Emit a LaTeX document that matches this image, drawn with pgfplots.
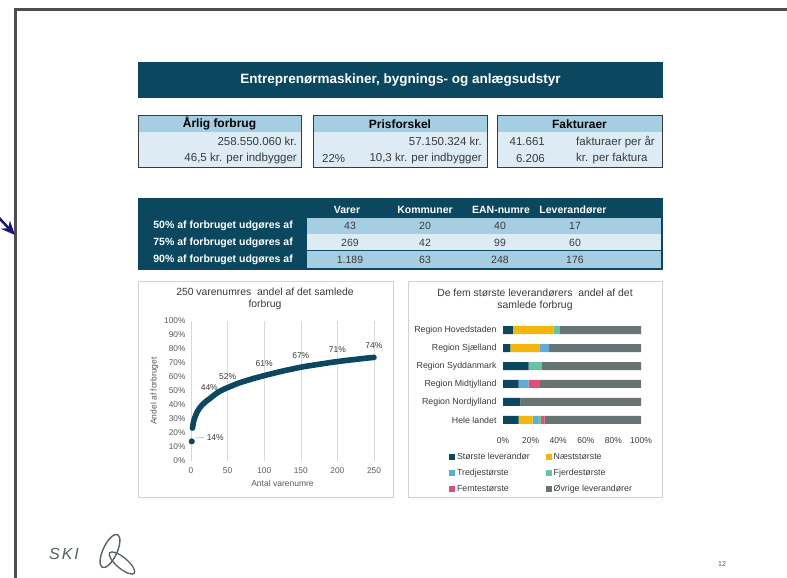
\documentclass[border=0pt]{standalone}
\usepackage{fontspec}
\setmainfont{Liberation Sans}
\usepackage{pgfplots}
\pgfplotsset{compat=1.18}
\usetikzlibrary{arrows.meta}

\definecolor{skiteal}{RGB}{11,72,96}
\definecolor{skiyellow}{RGB}{242,183,10}
\definecolor{skiblue}{RGB}{96,172,216}
\definecolor{skigreen}{RGB}{106,193,163}
\definecolor{skipink}{RGB}{225,77,122}
\definecolor{skigray}{RGB}{104,116,116}
\definecolor{hdrblue}{RGB}{166,206,227}
\definecolor{rowblue}{RGB}{221,235,244}
\definecolor{frame}{RGB}{77,77,79}
\definecolor{txt}{RGB}{58,58,58}
\definecolor{axtxt}{RGB}{89,89,89}
\definecolor{logo}{RGB}{86,98,96}
\definecolor{navyarrow}{RGB}{22,22,122}

\newcommand{\fs}[1]{\fontsize{#1}{#1}\selectfont}

\begin{document}
\begin{tikzpicture}[x=1pt,y=1pt]
\fill[white] (0,0) rectangle (787,578);
\useasboundingbox (0,0) rectangle (787,578);

% slide frame and arrow
\fill[frame] (14,567) rectangle (787,570);
\fill[frame] (14,0) rectangle (17,570);
\draw[-{Stealth[length=14pt,width=12pt]}, line width=2.5pt, navyarrow] (-12,372) -- (15,343);

% title bar
\fill[skiteal] (138,480) rectangle (663,515.5);
\node[white, font=\fs{13.5}\bfseries] at (400.5,497.5) {Entreprenørmaskiner, bygnings- og anlægsudstyr};

% three small tables
\foreach \a/\b in {138/301, 313/487, 497/662} {
  \fill[hdrblue] (\a,445.5) rectangle (\b,463);
  \fill[rowblue] (\a,411) rectangle (\b,445.5);
  \draw[txt, line width=0.8pt] (\a,411) rectangle (\b,463);
}
\begin{scope}[every node/.style={inner sep=0pt}]
\node[font=\fs{12}\bfseries] at (219.5,454.2) {Årlig forbrug};
\node[font=\fs{12}\bfseries] at (400,454.2) {Prisforskel};
\node[font=\fs{12}\bfseries] at (579.5,454.2) {Fakturaer};
\node[anchor=east, text=txt, font=\fs{11.5}] at (297,436.3) {258.550.060 kr.};
\node[anchor=east, text=txt, font=\fs{11.5}] at (297,419) {46,5 kr. per indbygger};
\node[anchor=east, text=txt, font=\fs{11.5}] at (482,436.3) {57.150.324 kr.};
\node[anchor=west, text=txt, font=\fs{11.5}] at (322,419) {22\%};
\node[anchor=east, text=txt, font=\fs{11.5}] at (482,419) {10,3 kr. per indbygger};
\node[anchor=east, text=txt, font=\fs{11.5}] at (545,436.3) {41.661};
\node[anchor=west, text=txt, font=\fs{11.5}] at (576,436.3) {fakturaer per år};
\node[anchor=east, text=txt, font=\fs{11.5}] at (545,419) {6.206};
\node[anchor=west, text=txt, font=\fs{11.5}] at (576,419) {kr. per faktura};
\end{scope}

% big table
\fill[skiteal] (138,308) rectangle (663,380);
\fill[hdrblue] (307,344) rectangle (661,360);
\fill[rowblue] (307,327.5) rectangle (661,343.5);
\fill[hdrblue] (307,310) rectangle (661,327);
\begin{scope}[every node/.style={inner sep=0pt}]
\foreach \x/\t in {347/Varer, 425/Kommuner, 501/EAN-numre, 573/Leverandører}
  \node[white, font=\fs{10.5}\bfseries] at (\x,368) {\t};
\foreach \y/\p in {352/50, 335.5/75, 318.5/90}
  \node[anchor=east, white, font=\fs{10.5}\bfseries] at (293,\y) {\p\% af forbruget udgøres af};
\foreach \y/\a/\b/\c/\d in {352/43/20/40/17, 335.5/269/42/99/60, 318.5/1.189/63/248/176} {
  \node[text=txt, font=\fs{10.5}] at (350,\y) {\a};
  \node[text=txt, font=\fs{10.5}] at (425,\y) {\b};
  \node[text=txt, font=\fs{10.5}] at (500,\y) {\c};
  \node[text=txt, font=\fs{10.5}] at (575,\y) {\d};
}
\end{scope}

% chart frames and titles
\draw[gray!35, line width=0.8pt] (138,81) rectangle (393,297);
\draw[gray!35, line width=0.8pt] (408,81) rectangle (662,297);
\node[align=center, text=txt, font=\fontsize{10.4}{11.8}\selectfont] at (265,279)
  {250 varenumres\ \ andel af det samlede\\forbrug};
\node[align=center, text=txt, font=\fontsize{10.4}{11.8}\selectfont] at (535,278.5)
  {De fem største leverandørers\ \ andel af det\\samlede forbrug};

% left chart: cumulative share of 250 item numbers
\begin{axis}[
  at={(191pt,117pt)}, anchor=south west,
  width=183pt, height=140pt, scale only axis,
  xmin=0, xmax=250, ymin=0, ymax=100,
  axis line style={draw=none},
  major tick length=0pt,
  xtick={0,50,...,250}, ytick={0,10,...,100},
  xmajorgrids, grid style={gray!30, line width=0.6pt},
  /pgf/number format/assume math mode=true,
  yticklabel={\pgfmathprintnumber{\tick}\%},
  ticklabel style={font=\fs{8.3}, text=axtxt},
  xticklabel style={yshift=-3pt},
  yticklabel style={xshift=-2pt},
  xlabel={Antal varenumre}, ylabel={Andel af forbruget},
  label style={font=\fs{8.5}, text=axtxt},
  xlabel style={at={(axis description cs:0.5,-0.157)}, anchor=center},
  ylabel style={at={(axis description cs:-0.2,0.5)}, anchor=center},
  clip=false,
]
\addplot[skiteal, line width=5.6pt, line cap=round, line join=round] coordinates {
  (2,23.5) (3,26.8) (4,29) (5,30.8) (6,32) (7,33.3) (8,34.5) (9,35.5) (10,36.5)
  (12,38) (14,39.3) (16,40.5) (18,41.4) (20,42.3) (22,43.2) (25,44.3)
  (28,45.5) (31,46.8) (34,48) (37,49) (40,50) (44,51) (48,52) (50,52.4)
  (55,53.5) (60,54.6) (65,55.6) (70,56.5) (75,57.3) (80,58.1) (85,58.9)
  (90,59.6) (95,60.3) (100,61) (110,62.3) (120,63.6) (130,64.8) (140,65.9)
  (150,67) (160,67.9) (170,68.7) (180,69.5) (190,70.3) (200,71) (210,71.7)
  (220,72.3) (230,72.9) (240,73.5) (250,74)
};
\addplot[skiteal, only marks, mark=*, mark size=2.8pt] coordinates {(1,14)};
\addplot[draw=none, nodes near coords, point meta=explicit symbolic,
  nodes near coords style={font=\fs{8.5}, text=txt, anchor=center, yshift=12pt}]
  coordinates {(25,44)[44\%] (50,52)[52\%] (100,61)[61\%] (150,67)[67\%] (200,71)[71\%] (250,74)[74\%]};
\addplot[draw=none, nodes near coords, point meta=explicit symbolic,
  nodes near coords style={font=\fs{8.5}, text=txt, anchor=west, xshift=11.5pt, yshift=3.4pt}]
  coordinates {(1,14)[14\%]};
\draw[gray!55, line width=0.6pt] (axis cs:5.5,16.4) -- (axis cs:18,16.9);
\end{axis}

% right chart: five largest suppliers by region
\begin{axis}[
  at={(503pt,149pt)}, anchor=south west,
  width=138pt, height=108pt, scale only axis,
  xbar stacked, bar width=8pt,
  xmin=0, xmax=100, ymin=-0.5, ymax=5.5,
  ytick={0,...,5},
  yticklabels={Hele landet, Region Nordjylland, Region Midtjylland, Region Syddanmark, Region Sjælland, Region Hovedstaden},
  xtick={0,20,...,100},
  /pgf/number format/assume math mode=true,
  xticklabel={\pgfmathprintnumber{\tick}\%},
  axis line style={draw=none}, major tick length=0pt,
  yticklabel style={font=\fs{8.8}, text=txt, xshift=-3pt},
  xticklabel style={font=\fs{8.5}, text=txt, yshift=-5pt},
  legend columns=2, legend cell align=left,
  legend style={at={(-0.391,-0.204)}, anchor=north west, draw=none, fill=none,
    inner sep=0pt, font=\fs{8.8}, text=txt, row sep=4pt,
    /tikz/every even column/.append style={column sep=14pt}},
  legend image code/.code={\fill[#1] (0pt,-2.9pt) rectangle (5.8pt,2.9pt);},
]
\addplot[fill=skiteal, draw=none] coordinates {(11.3,0) (12.5,1) (11.3,2) (18.6,3) (5.3,4) (7.2,5)};
\addlegendentry{Største leverandør}
\addplot[fill=skiyellow, draw=none] coordinates {(10.1,0) (0,1) (0,2) (0,3) (21,4) (29.4,5)};
\addlegendentry{Næststørste}
\addplot[fill=skiblue, draw=none] coordinates {(3.9,0) (0,1) (7.2,2) (0,3) (7.2,4) (0,5)};
\addlegendentry{Tredjestørste}
\addplot[fill=skigreen, draw=none] coordinates {(2.4,0) (0,1) (0,2) (9.6,3) (0,4) (4.3,5)};
\addlegendentry{Fjerdestørste}
\addplot[fill=skipink, draw=none] coordinates {(2.4,0) (0,1) (8.4,2) (0,3) (0,4) (0,5)};
\addlegendentry{Femtestørste}
\addplot[fill=skigray, draw=none] coordinates {(69.9,0) (87.5,1) (73.1,2) (71.8,3) (66.5,4) (59.1,5)};
\addlegendentry{Øvrige leverandører}
\end{axis}

% footer: logo and page number
\node[text=logo, font=\fs{16}\itshape] at (64,24) {S\hspace{2pt}K\hspace{2pt}I};
\draw[logo, line width=1.4pt, rotate around={-25:(110,27)}] (110,27) ellipse (7pt and 18pt);
\draw[logo, line width=1.3pt, rotate around={-40:(122,15)}] (122,15) ellipse (16pt and 5.5pt);
\node[text=axtxt, font=\fs{7}] at (722,14) {12};
\end{tikzpicture}
\end{document}
